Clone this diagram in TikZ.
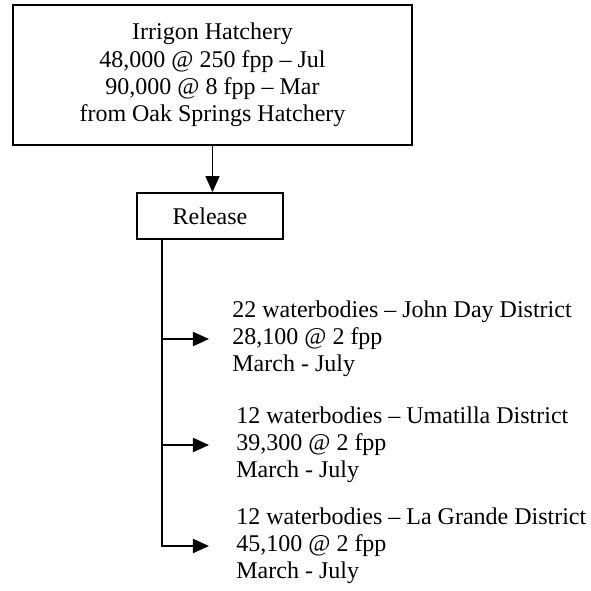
\documentclass[tikz,border=0pt]{standalone}
\usepackage{fontspec}
\setmainfont{Liberation Serif}
\usetikzlibrary{arrows.meta}
\begin{document}
\begin{tikzpicture}[x=0.5pt,y=-0.5pt,
 box/.style={draw,line width=0.9pt,align=center,inner sep=0pt,font=\fontsize{12}{13.6}\selectfont},
 lbl/.style={align=left,inner sep=0pt,anchor=west,font=\fontsize{12}{13.6}\selectfont},
 link/.style={line width=0.9pt,-{Triangle[length=8pt,width=7pt]}}]
\useasboundingbox (0,0) rectangle (591,591);
\node[box,minimum width=199.5pt,minimum height=70pt] (src) at (212.5,75)
  {Irrigon Hatchery\\48,000 @ 250 fpp – Jul\\90,000 @ 8 fpp – Mar\\from Oak Springs Hatchery};
\node[box,minimum width=73pt,minimum height=23pt] (rel) at (210,216) {Release};
\draw[link] (src.south) -- (rel.north -| src.south);
\coordinate (v0) at (162,239);
\node[lbl] (g1) at (232,339) {22 waterbodies – John Day District\\28,100 @ 2 fpp\\March - July};
\node[lbl] (g2) at (236,445) {12 waterbodies – Umatilla District\\39,300 @ 2 fpp\\March - July};
\node[lbl] (g3) at (236,546) {12 waterbodies – La Grande District\\45,100 @ 2 fpp\\March - July};
\draw[link,shorten >=11.5pt] (v0 |- g1.west) -- (g1.west);
\draw[link,shorten >=13.5pt] (v0 |- g2.west) -- (g2.west);
\draw[link,shorten >=13.5pt,line join=miter] (v0) |- (g3.west);
\end{tikzpicture}
\end{document}
